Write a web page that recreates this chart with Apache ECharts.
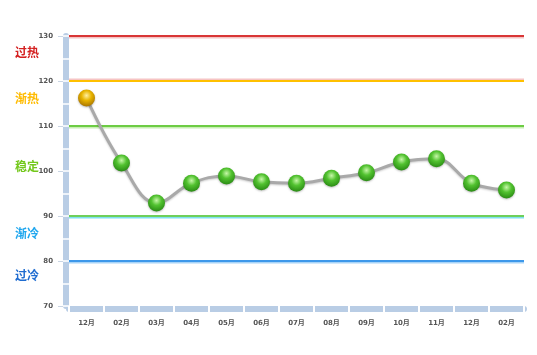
<!DOCTYPE html>
<html>
<head>
<meta charset="utf-8">
<script src="https://cdn.jsdelivr.net/npm/echarts@6/dist/echarts.min.js"></script>
<style>
  html, body { margin: 0; padding: 0; background: #fff; }
  #main { width: 537px; height: 355px; }
</style>
</head>
<body>
<div id="main"></div>
<script>
// 月份
let months = ['12月', '02月', '03月', '04月', '05月', '06月', '07月',
    '08月', '09月', '10月', '11月', '12月', '02月'];
// 指数
let values = [116.2, 101.8, 92.9, 97.3, 98.9, 97.6, 97.3, 98.4, 99.6, 102.0, 102.7, 97.3, 95.8];

// 分区线
let lineValues = [130, 120, 110, 90, 80];
let lineColors = ['#d93636', '#ffc000', '#6dcc44', '#6fcf5a', '#3d98ea'];
let lineShadows = ['#f4c4c4', '#f6c4c4', '#c8eeb4', '#7fe0f0', '#a8d4f8'];

// 分区文字
let zoneNames = ['过热', '渐热', '稳定', '渐冷', '过冷'];
let zoneValues = [126.3, 116.2, 101.1, 86.2, 76.7];
let zoneColors = ['#d42020', '#ffbb00', '#74c81c', '#1ea6ee', '#1f6cd0'];

let chart = echarts.init(document.getElementById('main'));

function ball(light, mid, dark) {
    return {
        type: 'radial', x: 0.5, y: 0.35, r: 0.65,
        colorStops: [
            { offset: 0, color: light },
            { offset: 0.45, color: mid },
            { offset: 1, color: dark }
        ]
    };
}

let greenBall = ball('#c6f7a8', '#52c230', '#2a8c14');
let goldBall = ball('#fff0a0', '#e8b400', '#a87400');

let seriesData = values.map(function (v, i) {
    if (i === 0) {
        return { value: v, itemStyle: { color: goldBall } };
    }
    return v;
});

let markData = lineValues.map(function (v, i) {
    return {
        yAxis: v,
        lineStyle: {
            color: lineColors[i],
            width: 2,
            type: 'solid',
            shadowColor: lineShadows[i],
            shadowBlur: 0,
            shadowOffsetY: i === 1 ? -1.5 : 1.5
        }
    };
});

let labelFont = {
    fontSize: 7,
    fontWeight: 'bold',
    color: '#555',
    fontFamily: 'DejaVu Sans, Noto Sans CJK SC'
};

let option = {
    animation: false,
    backgroundColor: '#fff',
    grid: {
        left: 69,
        right: 13,
        top: 36,
        bottom: 49
    },
    xAxis: [{
        type: 'category',
        data: months,
        boundaryGap: true,
        offset: 3,
        axisLine: { show: true, lineStyle: { color: '#b9cde5', width: 6 } },
        axisTick: { show: false },
        axisLabel: Object.assign({ margin: 11, interval: 0 }, labelFont),
        splitLine: { show: false }
    }, {
        type: 'category',
        data: months,
        boundaryGap: true,
        position: 'bottom',
        offset: 0,
        z: 3,
        axisLine: { show: false },
        axisTick: { show: true, length: 6, lineStyle: { color: '#fff', width: 2 } },
        axisLabel: { show: false },
        splitLine: { show: false }
    }],
    yAxis: [{
        type: 'value',
        min: 70,
        max: 130,
        interval: 10,
        position: 'left',
        offset: 3,
        axisLine: { show: true, lineStyle: { color: '#b9cde5', width: 6 } },
        axisTick: { show: true, length: 8, lineStyle: { color: '#c9d5e4', width: 1 } },
        axisLabel: Object.assign({ margin: 13 }, labelFont),
        splitLine: { show: false }
    }, {
        type: 'value',
        min: 70,
        max: 130,
        interval: 5,
        position: 'left',
        offset: 0,
        z: 3,
        axisLine: { show: false },
        axisTick: { show: true, length: 6, lineStyle: { color: '#fff', width: 1.5 } },
        axisLabel: { show: false },
        splitLine: { show: false }
    }],
    series: [{
        name: '指数',
        type: 'line',
        xAxisIndex: 0,
        yAxisIndex: 0,
        data: seriesData,
        smooth: 0.4,
        symbol: 'circle',
        symbolSize: 17,
        z: 5,
        lineStyle: {
            color: '#a9a9a9',
            width: 3,
            shadowColor: 'rgba(0,0,0,0.2)',
            shadowBlur: 2,
            shadowOffsetY: 1
        },
        itemStyle: {
            color: greenBall,
            borderWidth: 0,
            shadowColor: 'rgba(0,0,0,0.25)',
            shadowBlur: 2,
            shadowOffsetY: 1
        },
        markLine: {
            silent: true,
            symbol: ['none', 'none'],
            label: { show: false },
            z: 1,
            data: markData
        }
    }]
};

chart.setOption(option);

// 左侧分区文字
let texts = zoneNames.map(function (name, i) {
    let y = chart.convertToPixel({ yAxisIndex: 0 }, zoneValues[i]);
    return {
        type: 'text',
        x: 27,
        y: y,
        style: {
            text: name,
            fill: zoneColors[i],
            font: 'bold 12px "Noto Sans CJK SC"',
            align: 'center',
            verticalAlign: 'middle'
        }
    };
});
chart.setOption({ graphic: texts });
</script>
</body>
</html>
